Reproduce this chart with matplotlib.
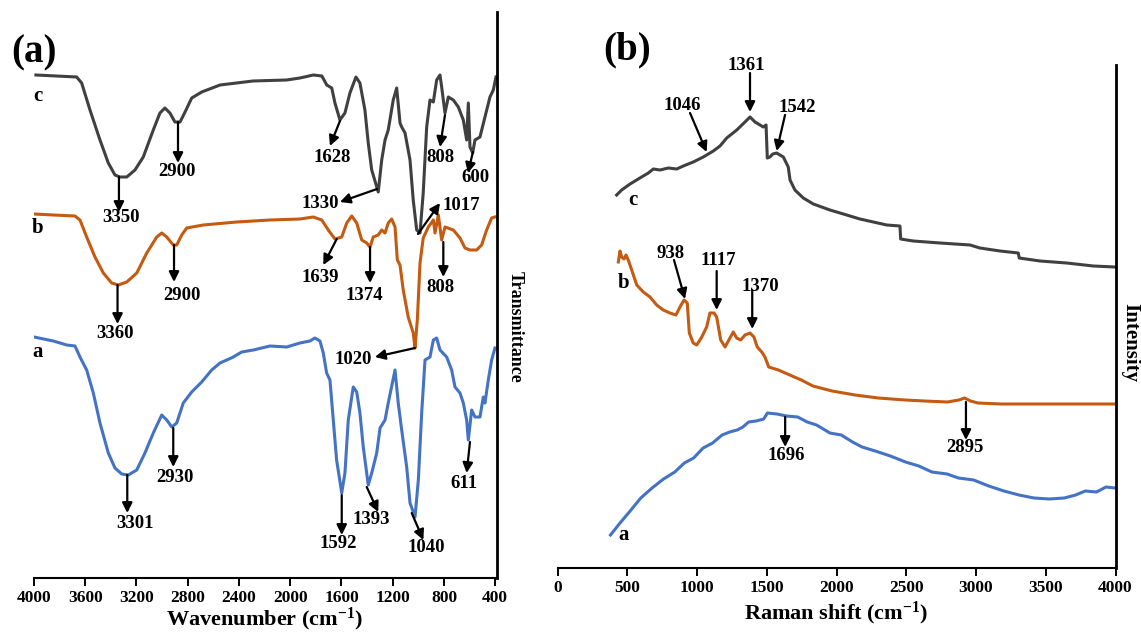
import matplotlib
matplotlib.use('Agg')
import matplotlib.pyplot as plt

# ---------------- FTIR data (panel a) ----------------
ftir_c_wn = [3985, 3667, 3628, 3563, 3485, 3420, 3368, 3329, 3276, 3212, 3147, 3069, 3017, 2978, 2939, 2900, 2860, 2821, 2769, 2691,
             2548, 2291, 2028, 1924, 1820, 1753, 1715, 1676, 1651, 1612, 1573, 1534, 1487, 1456, 1417, 1391, 1364, 1313, 1286, 1260,
             1235, 1196, 1169, 1143, 1130, 1104, 1065, 1040, 1013, 987, 962, 935, 909, 883, 857, 831, 818, 792, 766, 727,
             688, 649, 623, 610, 597, 576, 558, 519, 480, 441, 415, 394]
ftir_c_t = [503, 501, 495, 468, 438, 415, 403, 401, 401, 408, 421, 448, 465, 470, 465, 456, 456, 466, 480, 486,
            493, 497, 498, 500, 503, 502, 493, 490, 475, 458, 465, 485, 501, 495, 468, 435, 408, 386, 418, 438,
            448, 478, 490, 455, 451, 445, 418, 378, 348, 345, 385, 451, 478, 476, 498, 503, 491, 465, 481, 478,
            471, 458, 438, 475, 431, 425, 438, 441, 461, 481, 488, 501]

ftir_b_wn = [4000, 3849, 3680, 3641, 3589, 3524, 3459, 3394, 3342, 3276, 3198, 3120, 3042, 3003, 2964, 2913, 2886, 2847, 2808, 2679,
             2418, 2158, 1924, 1820, 1754, 1703, 1651, 1598, 1559, 1520, 1481, 1442, 1403, 1377, 1352, 1313, 1286, 1260, 1235, 1208,
             1182, 1164, 1143, 1118, 1079, 1040, 1026, 1008, 987, 962, 922, 883, 870, 844, 818, 792, 727, 675, 636, 597,
             545, 506, 467, 428, 402]
ftir_b_t = [364, 363, 362, 358, 341, 321, 305, 295, 293, 296, 305, 325, 341, 345, 341, 333, 333, 343, 350, 353,
            356, 358, 359, 361, 358, 348, 339, 341, 355, 362, 355, 338, 335, 331, 341, 343, 348, 345, 355, 359,
            351, 318, 313, 288, 261, 245, 230, 258, 315, 340, 351, 358, 345, 363, 338, 351, 348, 340, 330, 328,
            328, 333, 348, 360, 361]

ftir_a_wn = [4000, 3849, 3745, 3680, 3641, 3589, 3537, 3485, 3420, 3368, 3315, 3264, 3198, 3134, 3069, 3003, 2964, 2925, 2886, 2835,
             2769, 2691, 2613, 2548, 2444, 2379, 2288, 2158, 2028, 1924, 1846, 1807, 1768, 1742, 1716, 1690, 1664, 1638, 1598, 1573,
             1547, 1508, 1481, 1456, 1430, 1391, 1364, 1325, 1299, 1260, 1235, 1182, 1157, 1130, 1091, 1065, 1026, 1000, 974, 948,
             909, 883, 857, 831, 779, 740, 714, 675, 649, 623, 610, 584, 558, 519, 493, 480, 454, 428, 402]
ftir_a_t = [241, 237, 233, 232, 221, 208, 185, 155, 125, 110, 104, 103, 108, 125, 145, 163, 158, 151, 155, 175,
            186, 196, 208, 215, 221, 226, 228, 232, 231, 235, 237, 240, 237, 225, 205, 198, 158, 118, 85, 105,
            158, 191, 186, 165, 131, 93, 105, 125, 150, 158, 175, 208, 175, 148, 111, 75, 61, 98, 165, 218,
            221, 238, 240, 228, 221, 208, 191, 185, 175, 158, 138, 168, 161, 161, 181, 175, 198, 218, 230]

ftir_ticks = [4000, 3600, 3200, 2800, 2400, 2000, 1600, 1200, 800, 400]

# peak annotations: label, arrow start (on curve), arrow end, label position
ftir_peaks = ['3350', '2900', '1628', '1330', '1017', '808', '600',
              '3360', '2900', '1639', '1374', '808', '1020',
              '3301', '2930', '1592', '1393', '1040', '611']
ftir_arrow_from = [(3337, 401), (2876, 456), (1612, 457), (1323, 389), (1003, 344), (792, 463), (574, 426),
                   (3348, 293), (2907, 333), (1637, 339), (1377, 331), (805, 336), (1026, 230),
                   (3272, 103), (2913, 150), (1598, 83), (1403, 91), (1052, 65), (597, 136)]
ftir_arrow_to = [(3337, 366), (2876, 415), (1690, 432), (1612, 376), (831, 375), (831, 431), (613, 405),
                 (3348, 254), (2907, 296), (1742, 313), (1377, 295), (805, 301), (1339, 221),
                 (3272, 65), (2913, 111), (1598, 43), (1313, 66), (961, 38), (623, 105)]
ftir_label_pos = [(3321, 360), (2884, 406), (1674, 420), (1768, 375), (667, 372), (831, 421), (558, 400),
                  (3368, 245), (2845, 283), (1762, 301), (1424, 283), (826, 291), (1510, 218),
                  (3212, 55), (2900, 101), (1625, 34), (1364, 59), (935, 30), (644, 95)]
ftir_curve_names = ['c', 'b', 'a']
ftir_curve_name_pos = [(3969, 482), (3969, 350), (3969, 226)]

# ---------------- Raman data (panel b) ----------------
raman_c_shift = [424, 460, 520, 591, 651, 687, 735, 794, 854, 902, 973, 1045, 1081, 1117, 1165, 1213, 1285, 1344, 1380, 1416,
                 1452, 1475, 1495, 1504, 1523, 1543, 1571, 1619, 1654, 1667, 1702, 1762, 1834, 1953, 2073, 2168, 2264, 2360, 2455, 2460,
                 2550, 2742, 2957, 3028, 3172, 3303, 3310, 3459, 3650, 3841, 3996]
raman_c_int = [373, 378, 384, 390, 395, 399, 398, 400, 399, 402, 406, 411, 414, 417, 422, 430, 438, 446, 451, 446,
               443, 441, 443, 410, 411, 414, 415, 411, 401, 388, 378, 370, 364, 358, 353, 349, 346, 343, 342, 329,
               327, 325, 323, 320, 317, 315, 310, 307, 305, 302, 301]

raman_b_shift = [436, 448, 460, 477, 491, 507, 532, 568, 615, 663, 711, 758, 806, 849, 878, 907, 930, 945, 973, 998,
                 1034, 1069, 1093, 1122, 1141, 1170, 1201, 1236, 1260, 1284, 1313, 1344, 1380, 1408, 1432, 1464, 1487, 1514, 1583, 1665,
                 1748, 1831, 1968, 2133, 2299, 2492, 2629, 2795, 2877, 2919, 2960, 3015, 3180, 3456, 4000]
raman_b_int = [306, 317, 311, 309, 313, 308, 298, 283, 276, 271, 263, 258, 255, 253, 261, 268, 265, 235, 225, 223,
               231, 241, 255, 255, 251, 228, 221, 230, 236, 230, 228, 233, 235, 231, 221, 216, 211, 201, 198, 193,
               188, 182, 177, 173, 170, 168, 167, 166, 168, 170, 167, 165, 164, 164, 164]

raman_a_shift = [380, 448, 515, 597, 678, 760, 841, 909, 976, 1044, 1112, 1180, 1234, 1288, 1329, 1370, 1424, 1478, 1505, 1573,
                 1641, 1722, 1790, 1857, 1953, 2034, 2115, 2183, 2278, 2386, 2495, 2590, 2684, 2793, 2874, 2983, 3091, 3200, 3308, 3416,
                 3525, 3633, 3714, 3783, 3864, 3932, 3999]
raman_a_int = [33, 45, 56, 70, 80, 89, 96, 105, 110, 120, 125, 133, 136, 138, 141, 146, 147, 149, 155, 154,
               152, 151, 146, 143, 135, 133, 126, 121, 117, 112, 106, 102, 96, 94, 90, 88, 82, 77, 73, 70,
               69, 70, 73, 77, 76, 81, 80]

raman_ticks = [0, 500, 1000, 1500, 2000, 2500, 3000, 3500, 4000]

raman_peaks = ['1046', '1361', '1542', '938', '1117', '1370', '1696', '2895']
raman_arrow_from = [(950, 455), (1380, 495), (1631, 453), (835, 308), (1141, 297), (1396, 278), (1632, 151), (2928, 166)]
raman_arrow_to = [(1069, 416), (1380, 456), (1571, 417), (914, 269), (1141, 258), (1396, 239), (1632, 121), (2928, 128)]
raman_label_pos = [(897, 463), (1351, 503), (1715, 461), (811, 315), (1153, 308), (1457, 282), (1641, 112), (2923, 121)]
raman_curve_names = ['c', 'b', 'a']
raman_curve_name_pos = [(543, 368), (477, 285), (477, 33)]

# ---------------- styling ----------------
plt.rcParams['font.family'] = ['Liberation Serif', 'DejaVu Serif']
plt.rcParams['font.weight'] = 'bold'
plt.rcParams['mathtext.fontset'] = 'custom'
plt.rcParams['mathtext.rm'] = 'Liberation Serif:bold'
plt.rcParams['mathtext.it'] = 'Liberation Serif:bold:italic'
plt.rcParams['mathtext.bf'] = 'Liberation Serif:bold'

COL_A = '#4472C4'
COL_B = '#C55A11'
COL_C = '#404040'
W, H = 1141, 634

fig = plt.figure(figsize=(W / 100, H / 100), dpi=100)
axA = fig.add_axes([34 / W, 56 / H, (496.5 - 34) / W, 566 / H])
axB = fig.add_axes([557.5 / W, 66 / H, 558 / W, 503 / H])

LW = 2.2
axA.plot(ftir_c_wn, ftir_c_t, color=COL_C, lw=LW, solid_joinstyle='round')
axA.plot(ftir_b_wn, ftir_b_t, color=COL_B, lw=LW, solid_joinstyle='round')
axA.plot(ftir_a_wn, ftir_a_t, color=COL_A, lw=LW, solid_joinstyle='round')

axB.plot(raman_c_shift, raman_c_int, color=COL_C, lw=LW, solid_joinstyle='round')
axB.plot(raman_b_shift, raman_b_int, color=COL_B, lw=LW, solid_joinstyle='round')
axB.plot(raman_a_shift, raman_a_int, color=COL_A, lw=LW, solid_joinstyle='round')

arrow_kw = dict(arrowstyle='-|>,head_length=0.6,head_width=0.3', color='black', lw=1.6,
                shrinkA=0, shrinkB=0)


def annotate(ax, labels, froms, tos, poss, fs):
    for lab, fr, to, pos in zip(labels, froms, tos, poss):
        ax.annotate('', xy=to, xytext=fr, arrowprops=arrow_kw, annotation_clip=False)
        ax.text(pos[0], pos[1], lab, fontsize=fs, fontweight='bold', ha='center', va='center',
                clip_on=False)


annotate(axA, ftir_peaks, ftir_arrow_from, ftir_arrow_to, ftir_label_pos, 13.5)
annotate(axB, raman_peaks, raman_arrow_from, raman_arrow_to, raman_label_pos, 13.5)

for name, pos in zip(ftir_curve_names, ftir_curve_name_pos):
    axA.text(pos[0], pos[1], name, fontsize=15, fontweight='bold', ha='center', va='center')
for name, pos in zip(raman_curve_names, raman_curve_name_pos):
    axB.text(pos[0], pos[1], name, fontsize=15, fontweight='bold', ha='center', va='center')

axA.set_xlim(4000, 390)
axA.set_ylim(0, 566)
axB.set_xlim(0, 4000)
axB.set_ylim(0, 503)

for ax, ticks in ((axA, ftir_ticks), (axB, raman_ticks)):
    ax.set_xticks(ticks)
    ax.set_yticks([])
    ax.spines['left'].set_visible(False)
    ax.spines['top'].set_visible(False)
    ax.spines['right'].set_linewidth(2.0)
    ax.spines['bottom'].set_linewidth(1.5)
    ax.tick_params(axis='x', direction='out', length=6, width=1.4, labelsize=12.5, pad=3)
    for lbl in ax.get_xticklabels():
        lbl.set_fontweight('bold')

fig.text(265 / W, 1 - 619 / H, r'Wavenumber (cm$^{-1}$)', ha='center', va='center',
         fontsize=16, fontweight='bold')
axB.set_xlabel(r'Raman shift (cm$^{-1}$)', fontsize=16, fontweight='bold', labelpad=2)

fig.text(515 / W, 1 - 327 / H, 'Transmittance', rotation=270, ha='center', va='center',
         fontsize=13, fontweight='bold')
fig.text(1130 / W, 1 - 343 / H, 'Intensity', rotation=270, ha='center', va='center',
         fontsize=15, fontweight='bold')
fig.text(34 / W, 1 - 53 / H, '(a)', ha='center', va='center', fontsize=28, fontweight='bold')
fig.text(627 / W, 1 - 50 / H, '(b)', ha='center', va='center', fontsize=28, fontweight='bold')

fig.savefig('out.png', dpi=100)
